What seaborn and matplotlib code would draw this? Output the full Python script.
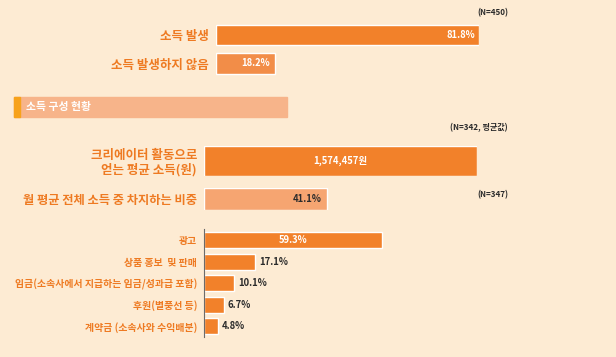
import matplotlib
matplotlib.use("Agg")
import matplotlib.pyplot as plt
import seaborn as sns
import pandas as pd

sns.set_theme(style="white")
plt.rcParams['font.family'] = ['Noto Sans CJK KR', 'DejaVu Sans']

# data
occur_labels = ["소득 발생", "소득 발생하지 않음"]
occur_values = [81.8, 18.2]
income_label = "크리에이터 활동으로\n얻는 평균 소득(원)"
income_value = 1574457
share_label = "월 평균 전체 소득 중 차지하는 비중"
share_value = 41.1
source_labels = ["광고", "상품 홍보  및 판매", "임금(소속사에서 지급하는 임금/성과급 포함)",
                 "후원(별풍선 등)", "계약금 (소속사와 수익배분)"]
source_values = [59.3, 17.1, 10.1, 6.7, 4.8]

BG = "#FDEBD3"
ORANGE = "#F2812A"
LIGHT = "#F28D48"
PALE = "#F6A571"
HEADER = "#F7B48A"
ACCENT = "#F7A21B"
TXT = "#EE7A22"
DARK = "#2B2B2B"

W, H = 616, 357
fig = plt.figure(figsize=(W / 100, H / 100), dpi=100)
fig.patch.set_facecolor(BG)


def px_axes(left, top, right, bottom):
    ax = fig.add_axes([left / W, 1 - bottom / H, (right - left) / W, (bottom - top) / H])
    ax.set_facecolor("none")
    return ax


def clean(ax, size):
    ax.set_xticks([])
    ax.set_xlabel("")
    ax.set_ylabel("")
    ax.tick_params(axis="y", length=0, pad=5)
    for s in ax.spines.values():
        s.set_visible(False)
    for t in ax.get_yticklabels():
        t.set_color(TXT)
        t.set_fontsize(size)
        t.set_fontweight("bold")


# section 1: income occurrence
ax1 = px_axes(216, 20.75, 479, 77.75)
df1 = pd.DataFrame({"label": occur_labels, "value": occur_values})
sns.barplot(data=df1, y="label", x="value", hue="label", palette=[ORANGE, LIGHT],
            width=0.72, ax=ax1, legend=False, saturation=1)
ax1.set_xlim(0, occur_values[0])
clean(ax1, 9)
ax1.text(occur_values[0] - 1.2, 0, f"{occur_values[0]}%", color="white", fontsize=6.8,
         fontweight="bold", ha="right", va="center")
ax1.text(occur_values[1] - 1.5, 1, f"{occur_values[1]}%", color="white", fontsize=6.8,
         fontweight="bold", ha="right", va="center")
fig.text(508 / W, 1 - 13 / H, "(N=450)", fontsize=5.8, fontweight="bold", color=DARK,
         ha="right", va="center")

# section header
fig.patches.append(plt.Rectangle((14 / W, 1 - 117 / H), (287 - 14) / W, 20 / H,
                                 transform=fig.transFigure, color=HEADER, zorder=0))
fig.patches.append(plt.Rectangle((14 / W, 1 - 117 / H), 6 / W, 20 / H,
                                 transform=fig.transFigure, color=ACCENT, zorder=1))
fig.text(26 / W, 1 - 107 / H, "소득 구성 현황", color="white", fontsize=7.8,
         fontweight="bold", ha="left", va="center")
fig.text(508 / W, 1 - 128 / H, "(N=342, 평균값)", fontsize=5.8, fontweight="bold",
         color=DARK, ha="right", va="center")

# section 2a: average income
ax3 = px_axes(204, 146, 477, 176)
sns.barplot(x=[income_value], y=[income_label], color=ORANGE, width=1.0, ax=ax3,
            saturation=1)
ax3.set_xlim(0, income_value)
clean(ax3, 9)
for t in ax3.get_yticklabels():
    t.set_linespacing(1.05)
ax3.text(income_value / 2, 0, f"{income_value:,}원", color="white", fontsize=6.8,
         fontweight="bold", ha="center", va="center")

# section 2b: share of monthly income
ax4 = px_axes(204, 188, 504, 210)
sns.barplot(x=[share_value], y=[share_label], color=PALE, width=1.0, ax=ax4,
            saturation=1)
ax4.set_xlim(0, 100)
clean(ax4, 8.8)
ax4.text(share_value - 2, 0, f"{share_value}%", color=DARK, fontsize=6.8,
         fontweight="bold", ha="right", va="center")
fig.text(508 / W, 1 - 195 / H, "(N=347)", fontsize=5.8, fontweight="bold", color=DARK,
         ha="right", va="center")

# section 3: income sources
ax5 = px_axes(204, 229.2, 504, 337.3)
df5 = pd.DataFrame({"label": source_labels, "value": source_values})
sns.barplot(data=df5, y="label", x="value", color=ORANGE, width=0.74, ax=ax5,
            saturation=1)
ax5.set_xlim(0, 100)
clean(ax5, 7.1)
ax5.spines["left"].set_visible(True)
ax5.spines["left"].set_color("#6B6B6B")
ax5.spines["left"].set_linewidth(0.8)
for i, v in enumerate(source_values):
    if i == 0:
        ax5.text(v / 2, i, f"{v}%", color="white", fontsize=6.8, fontweight="bold",
                 ha="center", va="center")
    else:
        ax5.text(v + 1.2, i, f"{v}%", color=DARK, fontsize=6.8, fontweight="bold",
                 ha="left", va="center")

fig.savefig("out.png", dpi=100, facecolor=BG)
